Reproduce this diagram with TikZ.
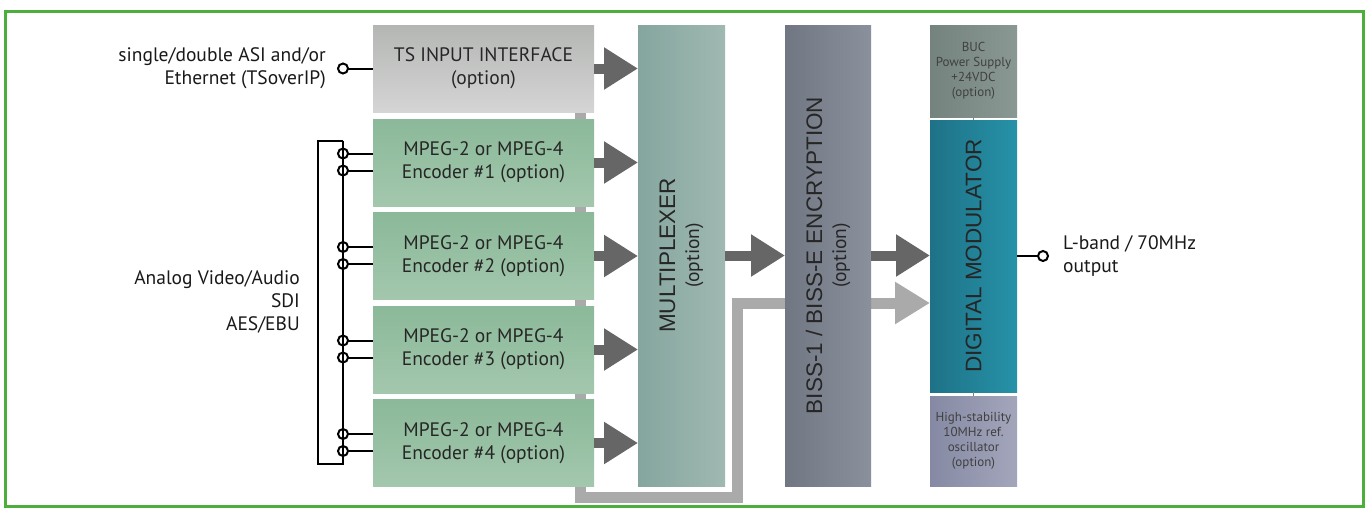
\documentclass[tikz,border=0pt]{standalone}
\usepackage{fontspec}
\setmainfont{PT Sans}
\newfontfamily\capsfont{Liberation Sans}
\usetikzlibrary{arrows.meta,positioning,calc,backgrounds}
\definecolor{frameGreen}{RGB}{76,175,60}
\definecolor{tsTop}{RGB}{180,182,180}
\definecolor{tsBot}{RGB}{212,213,212}
\definecolor{encTop}{RGB}{139,185,153}
\definecolor{encBot}{RGB}{163,199,173}
\definecolor{muxL}{RGB}{132,166,158}
\definecolor{muxR}{RGB}{160,184,178}
\definecolor{bissL}{RGB}{112,119,131}
\definecolor{bissR}{RGB}{138,144,156}
\definecolor{bucL}{RGB}{117,131,127}
\definecolor{bucR}{RGB}{138,152,148}
\definecolor{modL}{RGB}{30,114,135}
\definecolor{modR}{RGB}{38,146,168}
\definecolor{oscL}{RGB}{133,137,163}
\definecolor{oscR}{RGB}{163,166,187}
\definecolor{arrowDark}{RGB}{102,102,102}
\definecolor{busGray}{RGB}{170,170,170}
\begin{document}
\begin{tikzpicture}
	[x=1pt,y=-1pt,font=\fontsize{19.5}{23}\selectfont,
	box/.style={rectangle,inner sep=0pt,outer sep=0pt,align=center,text=black!85},
	widebox/.style={box,minimum width=221pt,minimum height=87pt},
	tallbox/.style={box,minimum width=87pt,minimum height=461pt},
	sidebox/.style={box,minimum width=87pt,font=\fontsize{13}{15}\selectfont,text=black!75},
	tallcaption/.style={rotate=90,align=center,inner sep=0pt,text=black!85,font=\capsfont\fontsize{22.5}{30}\selectfont},
	sidetext/.style={inner sep=0pt,text=black!90},
	jack/.style={circle,draw,line width=2pt,minimum size=10pt,inner sep=0pt,outer sep=0pt},
	wire/.style={line width=2pt,line join=miter},
	fatarrow/.style={draw=arrowDark,line width=10pt,-{Triangle[length=34pt,width=40pt]}},
	busline/.style={draw=busGray,line width=11pt,line join=miter,-{Triangle[length=35pt,width=40pt]}}]
	\useasboundingbox (0,0) rectangle (1368,509);
	\draw[frameGreen,line width=3pt] (5,11) rectangle (1363,506);
	% input side
	\node (ts) [widebox,top color=tsTop,bottom color=tsBot,anchor=north west] at (373,25) {TS INPUT INTERFACE\\(option)};
	\node (enc1) [widebox,top color=encTop,bottom color=encBot,below=7pt of ts] {MPEG-2 or MPEG-4\\Encoder \#1 (option)};
	\node (enc2) [widebox,top color=encTop,bottom color=encBot,below=6.5pt of enc1] {MPEG-2 or MPEG-4\\Encoder \#2 (option)};
	\node (enc3) [widebox,top color=encTop,bottom color=encBot,below=6.5pt of enc2] {MPEG-2 or MPEG-4\\Encoder \#3 (option)};
	\node (enc4) [widebox,top color=encTop,bottom color=encBot,below=6.5pt of enc3] {MPEG-2 or MPEG-4\\Encoder \#4 (option)};
	% processing columns
	\node (mux) [tallbox,left color=muxL,right color=muxR,anchor=north west] at ([xshift=44pt]ts.north east) {};
	\node (muxText) [tallcaption] at (mux.center) {MULTIPLEXER\\[-6pt]{\normalfont\fontsize{19.5}{23}\selectfont(option)}};
	\node (biss) [tallbox,minimum width=86pt,left color=bissL,right color=bissR,anchor=north west] at ([xshift=60pt]mux.north east) {};
	\node (bissText) [tallcaption] at (biss.center) {BISS-1 / BISS-E ENCRYPTION\\[-6pt]{\normalfont\fontsize{19.5}{23}\selectfont(option)}};
	\node (buc) [sidebox,minimum height=92pt,left color=bucL,right color=bucR,anchor=north west] at ([xshift=59pt]biss.north east) {BUC\\Power Supply\\+24VDC\\(option)};
	\node (mod) [box,minimum width=87pt,minimum height=272pt,left color=modL,right color=modR,below=3pt of buc] {};
	\node (modText) [tallcaption] at (mod.center) {DIGITAL MODULATOR};
	\node (osc) [sidebox,minimum height=90pt,left color=oscL,right color=oscR,below=4pt of mod] {High-stability\\10MHz ref.\\oscillator\\(option)};
	\draw[gray,line width=1.5pt] (buc) -- (mod);
	\draw[gray,line width=1.5pt] (mod) -- (osc);
	% arrows
	\foreach \n in {ts,enc1,enc2,enc3,enc4}
		\draw[fatarrow] (\n.east) -- (\n.east -| mux.west);
	\draw[fatarrow] (mux) -- (biss);
	\draw[fatarrow] (biss.east) -- (biss.east -| mod.west);
	\begin{pgfonlayer}{background}
		\coordinate (busTop) at ([xshift=-14pt]ts.south east);
		\coordinate (busCorner) at (737,497);
		\draw[busline] (busTop) |- (busCorner) |- (mod.west |- 0,303);
	\end{pgfonlayer}
	% connectors
	\node (tsJack) [jack,left=25pt of ts.west] {};
	\draw[wire] (tsJack) -- (ts.west);
	\node (tsLabel) [sidetext,align=right,left=12pt of tsJack] {single/double ASI and/or\\Ethernet (TSoverIP)};
	\foreach \i in {1,...,4} {
		\node (jackA\i) [jack,left=25pt of enc\i.west,yshift=9pt] {};
		\node (jackB\i) [jack,left=25pt of enc\i.west,yshift=-8pt] {};
		\draw[wire] (jackA\i) -- (jackA\i -| enc\i.west);
		\draw[wire] (jackB\i) -- (jackB\i -| enc\i.west);
	}
	\coordinate (brTop) at ([yshift=13pt]jackA1.center);
	\coordinate (brBot) at ([yshift=-13pt]jackB4.center);
	\coordinate (brMid) at ($(brTop)!0.5!(brBot)$);
	\draw[wire] (brTop) -- (brBot) -- ++(-25,0) |- (brTop);
	\node (avLabel) [sidetext,align=right,left=43pt of brMid] {Analog Video/Audio\\SDI\\AES/EBU};
	\node (outJack) [jack,right=21pt of mod.east] {};
	\draw[wire] (mod.east) -- (outJack);
	\node (outLabel) [sidetext,align=left,right=15pt of outJack] {L-band / 70MHz\\output};
\end{tikzpicture}
\end{document}
